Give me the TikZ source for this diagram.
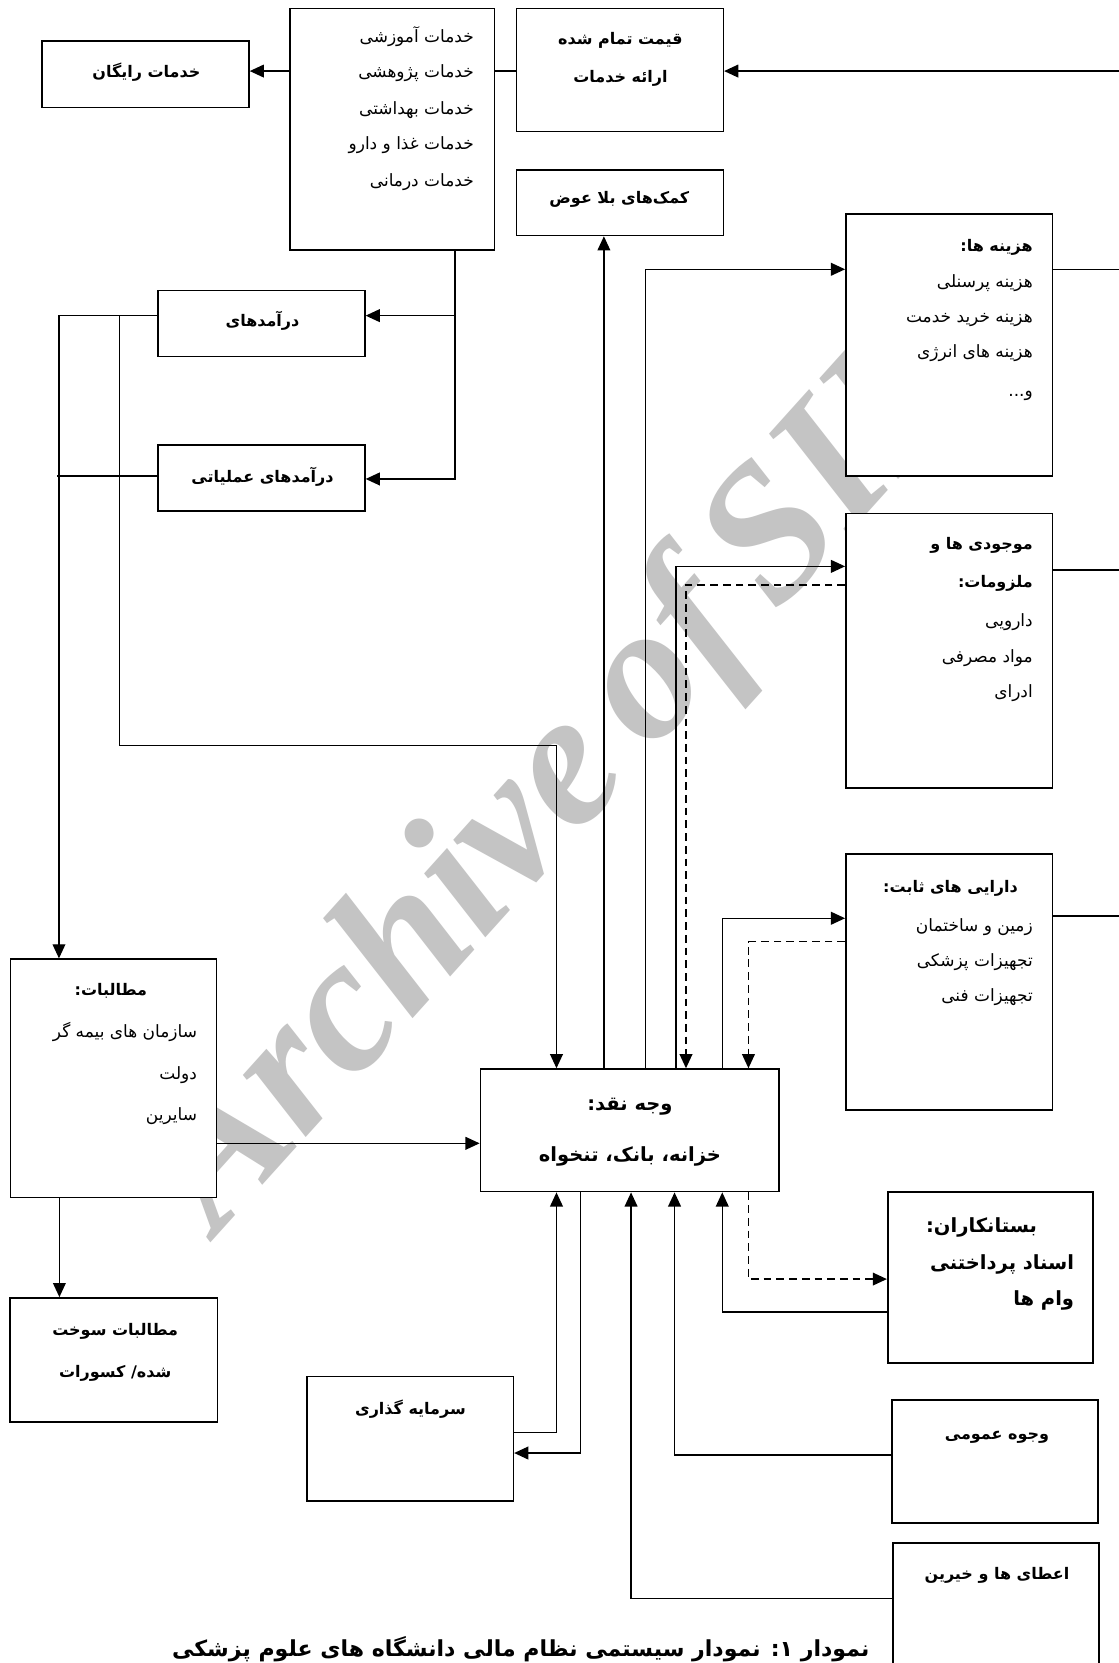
\documentclass[tikz,border=0pt]{standalone}
\usepackage{fontspec}
\newfontfamily\fa[Script=Arabic]{DejaVu Sans}
\newfontfamily\wmfont{Liberation Serif}
\TeXXeTstate=1
\usetikzlibrary{arrows.meta,fit}
\newcommand\RL[1]{\beginR #1\endR}
\newcommand\mkbox[5]{\node[box, fit={(#2,#3) (#4,#5)}] (#1) {};}
\begin{document}
\begin{tikzpicture}[x=0.75pt,y=-0.75pt,
  box/.style={draw, line width=1.15pt, fill=white, inner sep=0pt},
  conn/.style={line width=1.05pt},
  arr/.style={conn, -{Triangle[length=10pt,width=9pt]}},
  dsh/.style={dash pattern=on 5.5pt off 3.5pt},
  rt/.style={anchor=mid east, inner sep=0pt, yshift=-2.2pt, font=\fa\fontsize{12}{14}\selectfont},
  rtb/.style={anchor=mid east, inner sep=0pt, yshift=-2.2pt, font=\fa\bfseries\fontsize{11.3}{14}\selectfont},
  ctb/.style={anchor=mid, inner sep=0pt, yshift=-2.2pt, font=\fa\bfseries\fontsize{11.3}{14}\selectfont},
  big/.style={font=\fa\bfseries\fontsize{13.8}{16}\selectfont},
  wml/.style={anchor=base west, rotate=48, inner sep=0pt, text=black!23,
    font=\wmfont\bfseries\itshape\fontsize{136}{136}\selectfont}]
\useasboundingbox (0,0) rectangle (1055,1568);
\fill[white] (0,0) rectangle (1055,1568);
% watermark "Archive of SID", letter by letter along a 48 degree baseline
\node[wml] (wA) at (205,1165) {A};
\node[wml] (wr) at (285.9,1075.2) {r};
\node[wml] (wc) at (333.1,1022.8) {c};
\node[wml] (wh) at (387,963) {h};
\node[wml] (wi) at (454.4,888.1) {i};
\node[wml] (wv) at (488.1,850.6) {v};
\node[wml] (we) at (542,790.8) {e};
\node[wml] (wo) at (614.0,710.8) {o};
\node[wml] (wf) at (674.7,643.4) {f};
\node[wml] (wS) at (733.3,578.4) {S};
\node[wml] (wI) at (800.7,503.5) {I};
\node[wml] (wD) at (847.9,451.1) {D};
% boxes
\mkbox{free}{39.7}{38.7}{234.7}{101.2}
\mkbox{serv}{273.4}{7.9}{466.3}{235.7}
\mkbox{price}{487}{7.9}{682}{124}
\mkbox{grant}{487}{160}{682}{222}
\mkbox{cost}{797.6}{201.8}{992.4}{448.8}
\mkbox{inv}{797.6}{484}{992.4}{743}
\mkbox{fixed}{797.6}{805}{992.4}{1046.6}
\mkbox{rev1}{149}{274}{344}{336}
\mkbox{rev2}{149}{419.5}{344}{481.8}
\mkbox{claims}{10}{904.4}{204.3}{1129}
\mkbox{burnt}{9.7}{1223.8}{205}{1340.7}
\mkbox{cash}{453}{1008}{734.6}{1123.5}
\mkbox{cred}{837}{1124}{1030.7}{1285}
\mkbox{invest}{289.6}{1297.9}{484}{1415}
\mkbox{public}{841}{1320}{1035}{1436}
\mkbox{donors}{842}{1455}{1036}{1600}
% texts
\node[ctb] (tfree) at (138,67) {\RL{خدمات رایگان}};
\node[rt] (ts1) at (447,34) {\RL{خدمات آموزشی}};
\node[rt] (ts2) at (447,67.6) {\RL{خدمات  پژوهشی}};
\node[rt] (ts3) at (447,102) {\RL{خدمات بهداشتی}};
\node[rt] (ts4) at (447,135) {\RL{خدمات غذا و دارو}};
\node[rt] (ts5) at (447,169.7) {\RL{خدمات درمانی}};
\node[ctb] (tp1) at (585,36) {\RL{قیمت تمام شده}};
\node[ctb] (tp2) at (585,72) {\RL{ارائه خدمات}};
\node[ctb] (tg) at (584,186) {\RL{کمک‌های بلا عوض}};
\node[rtb] (tc1) at (974,231) {\RL{هزینه ها:}};
\node[rt] (tc2) at (974,265.5) {\RL{هزینه پرسنلی}};
\node[rt] (tc3) at (974,298.5) {\RL{هزینه خرید خدمت}};
\node[rt] (tc4) at (974,331.5) {\RL{هزینه های انرژی}};
\node[rt] (tc5) at (974,367.7) {\RL{و...}};
\node[rtb] (ti1) at (974,512) {\RL{موجودی ها و}};
\node[rtb] (ti2) at (974,548) {\RL{ملزومات:}};
\node[rt] (ti3) at (974,584.5) {\RL{دارویی}};
\node[rt] (ti4) at (974,619) {\RL{مواد مصرفی}};
\node[rt] (ti5) at (974,652) {\RL{ادرای}};
\node[rtb] (tf1) at (960,836) {\RL{دارایی های ثابت:}};
\node[rt] (tf2) at (974,872) {\RL{زمین و ساختمان}};
\node[rt] (tf3) at (974,905) {\RL{تجهیزات پزشکی}};
\node[rt] (tf4) at (974,938) {\RL{تجهیزات فنی}};
\node[ctb] (tr1) at (247.5,301.7) {\RL{درآمدهای}};
\node[ctb] (tr2) at (247.5,449) {\RL{درآمدهای عملیاتی}};
\node[rtb] (tm1) at (139,933) {\RL{مطالبات:}};
\node[rt] (tm2) at (186,972.6) {\RL{سازمان های بیمه گر}};
\node[rt] (tm3) at (186,1012) {\RL{دولت}};
\node[rt] (tm4) at (186,1051) {\RL{سایرین}};
\node[ctb] (tb1) at (108.6,1253) {\RL{مطالبات سوخت}};
\node[ctb] (tb2) at (108.6,1293) {\RL{شده/ کسورات}};
\node[ctb,big] (tn1) at (594,1041) {\RL{وجه نقد:}};
\node[ctb,big] (tn2) at (594,1089) {\RL{خزانه، بانک، تنخواه}};
\node[rtb,big] (td1) at (978,1156.5) {\RL{بستانکاران:}};
\node[rtb,big] (td2) at (1013,1191) {\RL{اسناد پرداختنی}};
\node[rtb,big] (td3) at (1013,1225) {\RL{وام ها}};
\node[ctb] (tv) at (387,1327.6) {\RL{سرمایه گذاری}};
\node[ctb] (tu) at (940,1351) {\RL{وجوه عمومی}};
\node[ctb] (tk) at (940,1483) {\RL{اعطای ها و خیرین}};
\node[anchor=mid, inner sep=0pt, yshift=-2pt, font=\fa\bfseries\fontsize{15.6}{18}\selectfont] (cap) at (491,1556) {\RL{نمودار ۱: نمودار سیستمی نظام مالی دانشگاه های علوم پزشکی}};
% free ends / junctions
\coordinate (eTop) at (1060,67);
\coordinate (eCost) at (1060,253.9);
\coordinate (eInv) at (1060,537.4);
\coordinate (eFix) at (1060,863.6);
\coordinate (j1) at (429,297.6);
\coordinate (j2) at (112.8,297.6);
\coordinate (r2end) at (53.9,448.8);
% connectors
\draw[arr] (serv.west |- 0,67) -- (free.east |- 0,67);
\draw[conn] (serv.east |- 0,67) -- (price.west |- 0,67);
\draw[arr] (eTop) -- (price.east |- eTop);
\draw[arr] (serv.south -| 429,0) |- (rev2.east |- 0,451.6);
\draw[arr] (j1) -- (rev1.east |- j1);
\draw[arr] (rev1.west |- j1) -| (claims.north -| 55.6,0);
\draw[arr] (j2) |- (524.7,703) -- (cash.north -| 524.7,0);
\draw[conn] (rev2.west |- r2end) -- (r2end);
\draw[arr] (claims.east |- 0,1078) -- (cash.west |- 0,1078);
\draw[arr] (claims.south -| 56,0) -- (burnt.north -| 56,0);
\draw[arr] (cash.north -| 569.4,0) -- (grant.south -| 569.4,0);
\draw[arr] (cash.north -| 608.7,0) |- (cost.west |- 0,253.9);
\draw[arr] (cash.north -| 637.3,0) |- (inv.west |- 0,534);
\draw[arr,dsh] (inv.west |- 0,551.5) -| (cash.north -| 646.8,0);
\draw[arr] (cash.north -| 681.3,0) |- (fixed.west |- 0,865.8);
\draw[arr,dsh] (fixed.west |- 0,887.8) -| (cash.north -| 705.7,0);
\draw[conn] (cost.east |- eCost) -- (eCost);
\draw[conn] (inv.east |- eInv) -- (eInv);
\draw[conn] (fixed.east |- eFix) -- (eFix);
\draw[arr] (invest.east |- 0,1350.7) -| (cash.south -| 524.7,0);
\draw[arr] (cash.south -| 547.5,0) |- (invest.east |- 0,1370);
\draw[arr] (donors.west |- 0,1507) -| (cash.south -| 595,0);
\draw[arr] (public.west |- 0,1371.8) -| (cash.south -| 636,0);
\draw[arr] (cred.west |- 0,1237) -| (cash.south -| 681,0);
\draw[arr,dsh] (cash.south -| 705.7,0) |- (cred.west |- 0,1206);
\end{tikzpicture}
\end{document}
